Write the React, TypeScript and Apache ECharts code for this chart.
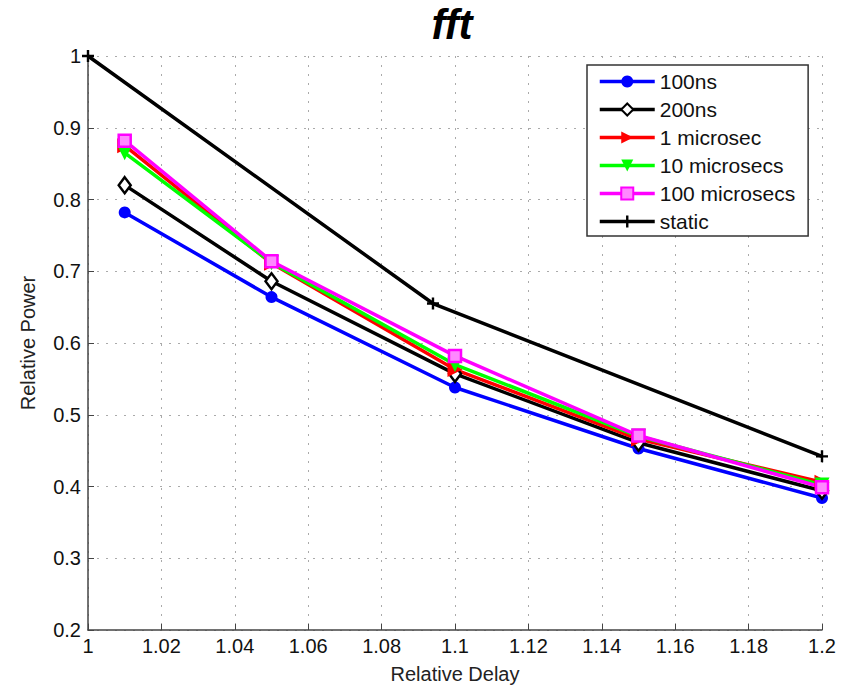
import React, { useEffect, useRef } from "react";
import * as echarts from "echarts";

const delays = [1.01, 1.05, 1.1, 1.15, 1.2];
const s100ns = [0.782, 0.664, 0.538, 0.453, 0.384];
const s200ns = [0.82, 0.686, 0.557, 0.461, 0.394];
const s1us = [0.875, 0.711, 0.563, 0.466, 0.406];
const s10us = [0.865, 0.712, 0.57, 0.47, 0.402];
const s100us = [0.882, 0.714, 0.582, 0.471, 0.399];
const staticX = [1.0, 1.094, 1.2];
const staticY = [1.0, 0.655, 0.442];

const FONT = "Liberation Sans, Arial, Helvetica, sans-serif";

export default function App() {
  const ref = useRef<HTMLDivElement>(null);
  useEffect(() => {
    document.body.style.margin = "0";
    const chart = echarts.init(ref.current!, null, { renderer: "svg" });
    const mk = (arr: number[], xs: number[]) => arr.map((v, i) => [xs[i], v]);
    const base = (name: string, color: string, data: number[][], extra: any) => ({
      name,
      type: "line",
      data,
      lineStyle: { color, width: 3.5 },
      color,
      symbolSize: 11,
      z: 3,
      ...extra,
    });
    chart.setOption({
      animation: false,
      backgroundColor: "#fff",
      title: {
        text: "fft",
        left: 447,
        textAlign: "center",
        top: -2,
        textStyle: { fontFamily: FONT, fontSize: 42, fontWeight: "bold", fontStyle: "italic", color: "#000" },
      },
      grid: { left: 88, right: 30, top: 56, bottom: 55 },
      legend: {
        orient: "vertical",
        left: 587,
        top: 65,
        padding: [6, 13, 4, 11],
        borderColor: "#333",
        borderWidth: 1.5,
        backgroundColor: "#fff",
        itemWidth: 55,
        itemHeight: 15,
        itemGap: 7,
        lineStyle: { width: 3.5 },
        textStyle: { fontFamily: FONT, fontSize: 21, lineHeight: 20, color: "#111" },
        data: ["100ns", "200ns", "1 microsec", "10 microsecs", "100 microsecs", "static"],
      },
      xAxis: {
        type: "value",
        min: 1,
        max: 1.2,
        interval: 0.02,
        name: "Relative Delay",
        nameLocation: "middle",
        nameGap: 34,
        nameTextStyle: { fontFamily: FONT, fontSize: 20, color: "#222" },
        axisLine: { lineStyle: { color: "#444", width: 1.5 } },
        axisTick: { inside: true, length: 6, lineStyle: { color: "#444" } },
        axisLabel: {
          fontFamily: FONT,
          fontSize: 20,
          color: "#111",
          margin: 6,
          formatter: (v: number) => String(Math.round(v * 100) / 100),
        },
        splitLine: { show: true, lineStyle: { type: [2, 7], color: "#aaa", width: 1 } },
      },
      yAxis: {
        type: "value",
        min: 0.2,
        max: 1,
        interval: 0.1,
        name: "Relative Power",
        nameLocation: "middle",
        nameGap: 50,
        nameTextStyle: { fontFamily: FONT, fontSize: 20, color: "#222" },
        axisLine: { show: true, lineStyle: { color: "#444", width: 1.5 } },
        axisTick: { show: true, inside: true, length: 6, lineStyle: { color: "#444" } },
        axisLabel: {
          fontFamily: FONT,
          fontSize: 20,
          color: "#111",
          margin: 7,
          formatter: (v: number) => String(Math.round(v * 10) / 10),
        },
        splitLine: { show: true, lineStyle: { type: [2, 7], color: "#aaa", width: 1 } },
      },
      series: [
        base("static", "#000", mk(staticY, staticX), {
          symbol: "path://M4,0H6V4H10V6H6V10H4V6H0V4H4Z",
          symbolSize: 12,
          itemStyle: { color: "#000" },
          z: 2,
        }),
        base("100ns", "#0000ff", mk(s100ns, delays), {
          symbol: "circle",
          symbolSize: 12,
          itemStyle: { color: "#0000ff" },
        }),
        base("200ns", "#000", mk(s200ns, delays), {
          symbol: "diamond",
          symbolSize: [12, 16],
          itemStyle: { color: "#fff", borderColor: "#000", borderWidth: 2.5 },
        }),
        base("1 microsec", "#ff0000", mk(s1us, delays), {
          symbol: "triangle",
          symbolRotate: -90,
          symbolSize: 15,
          itemStyle: { color: "#ff0000" },
        }),
        base("10 microsecs", "#00ff00", mk(s10us, delays), {
          symbol: "triangle",
          symbolRotate: 180,
          symbolSize: 15,
          itemStyle: { color: "#00ff00" },
        }),
        base("100 microsecs", "#ff00ff", mk(s100us, delays), {
          symbol: "rect",
          symbolSize: 12,
          itemStyle: { color: "#ff88ff", borderColor: "#ff00ff", borderWidth: 2.5 },
        }),
      ],
    });
    return () => chart.dispose();
  }, []);
  return <div ref={ref} style={{ width: 852, height: 689 }} />;
}
